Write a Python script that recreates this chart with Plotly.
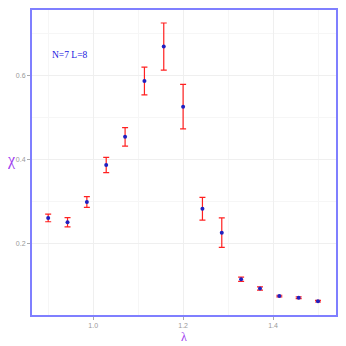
import plotly.graph_objects as go

lam = [0.9, 0.943, 0.986, 1.029, 1.071, 1.114, 1.157, 1.2,
       1.243, 1.286, 1.329, 1.371, 1.414, 1.457, 1.5]
chi = [0.260, 0.250, 0.298, 0.386, 0.453, 0.586, 0.668, 0.525,
       0.282, 0.225, 0.114, 0.092, 0.074, 0.070, 0.062]
chi_err = [0.009, 0.011, 0.013, 0.018, 0.022, 0.033, 0.056, 0.053,
           0.027, 0.035, 0.005, 0.004, 0.002, 0.002, 0.002]

fig = go.Figure()
fig.add_trace(go.Scatter(
    x=lam, y=chi, mode="markers",
    marker=dict(color="#2020c0", size=4),
    error_y=dict(type="data", array=chi_err, color="#ff2020",
                 thickness=1.2, width=3),
    showlegend=False,
))

axis_common = dict(
    showgrid=True, gridcolor="#efefef", gridwidth=0.6,
    showline=True, linecolor="#7f7fff", linewidth=2, mirror=True,
    ticks="outside", ticklen=3, tickcolor="#aaaaaa",
    tickfont=dict(size=7, color="#999999", family="Liberation Sans"),
    zeroline=False, automargin=False,
)

fig.update_xaxes(
    range=[0.864, 1.54], tickvals=[1.0, 1.2, 1.4], ticktext=["1.0", "1.2", "1.4"],
    minor=dict(tickvals=[0.9, 1.1, 1.3, 1.5], showgrid=True, gridcolor="#f6f6f6"),
    **axis_common,
)
fig.update_yaxes(
    range=[0.029, 0.755], tickvals=[0.2, 0.4, 0.6], ticktext=["0.2", "0.4", "0.6"],
    minor=dict(tickvals=[0.3, 0.5, 0.7], showgrid=True, gridcolor="#f6f6f6"),
    **axis_common,
)

fig.add_annotation(
    x=0.905, y=0.648, xref="x", yref="y", xanchor="left", showarrow=False,
    text="N=7 L=8", font=dict(size=9.5, color="#2020e0", family="Liberation Serif"),
)
fig.add_annotation(
    x=0.5, y=-0.071, xref="paper", yref="paper", xanchor="center", yanchor="middle",
    showarrow=False,
    text="λ", font=dict(size=12, color="#a040f0", family="Liberation Serif"),
)
fig.add_annotation(
    x=-0.069, y=0.508, xref="paper", yref="paper", xanchor="center", yanchor="middle",
    showarrow=False,
    text="χ", font=dict(size=16, color="#a040f0", family="Liberation Serif"),
)

# page body has an 8px margin, so the figure is sized to fit inside it
fig.update_layout(
    width=330, height=338,
    margin=dict(l=24, r=2, t=2, b=31),
    plot_bgcolor="white", paper_bgcolor="white",
)

fig.write_html("out.html")
